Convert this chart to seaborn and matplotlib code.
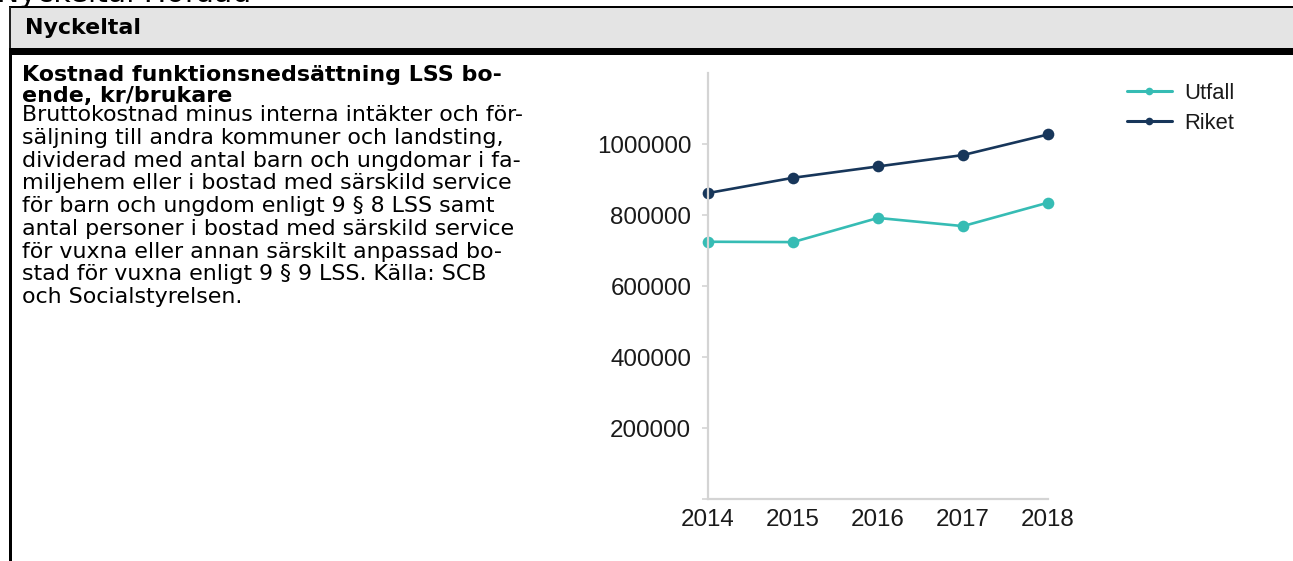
import matplotlib
matplotlib.use("Agg")
import matplotlib.pyplot as plt
from matplotlib.patches import Rectangle
from matplotlib.ticker import FuncFormatter
import pandas as pd
import seaborn as sns

# Data
years = [2014, 2015, 2016, 2017, 2018]
utfall = [725000, 724000, 792000, 769000, 835000]
riket = [862000, 905000, 937000, 969000, 1027000]
series_names = ["Utfall", "Riket"]
series_colors = ["#36bcb4", "#17365a"]
y_ticks = [0, 200000, 400000, 600000, 800000, 1000000]

page_title = "Nyckeltal Hofdad"
section_header = "Nyckeltal"
kpi_title = ["Kostnad funktionsnedsättning LSS bo-", "ende, kr/brukare"]
kpi_body = [
    "Bruttokostnad minus interna intäkter och för-",
    "säljning till andra kommuner och landsting,",
    "dividerad med antal barn och ungdomar i fa-",
    "miljehem eller i bostad med särskild service",
    "för barn och ungdom enligt 9 § 8 LSS samt",
    "antal personer i bostad med särskild service",
    "för vuxna eller annan särskilt anpassad bo-",
    "stad för vuxna enligt 9 § 9 LSS. Källa: SCB",
    "och Socialstyrelsen.",
]

df = pd.DataFrame({
    "År": years * 2,
    "Värde": utfall + riket,
    "Serie": [series_names[0]] * len(years) + [series_names[1]] * len(years),
})

sns.set_theme(style="white")
plt.rcParams["font.family"] = ["DejaVu Sans"]

W, H = 1293, 561
fig = plt.figure(figsize=(W / 100, H / 100), dpi=100)
fig.patch.set_facecolor("white")

# Page background layer in pixel coordinates
bg = fig.add_axes([0, 0, 1, 1], zorder=0)
bg.set_xlim(0, W)
bg.set_ylim(H, 0)
bg.axis("off")

bg.add_patch(Rectangle((9, 5.5), W - 9, 2, color="black", lw=0))
bg.add_patch(Rectangle((10.5, 7.5), W - 10.5, 41, color="#e4e4e4", lw=0))
bg.add_patch(Rectangle((9, 7), 1.6, 42, color="#222222", lw=0))
bg.add_patch(Rectangle((9, 48), W - 9, 7, color="black", lw=0))
bg.add_patch(Rectangle((8.5, 55), 3, H - 55, color="black", lw=0))

# Fit the description font so the first body line spans its column
probe = bg.text(22, 0, kpi_body[0], fontsize=12, family="DejaVu Sans")
fig.canvas.draw()
w_px = probe.get_window_extent(fig.canvas.get_renderer()).width
probe.remove()
fs = 12 * 500 / w_px

bg.text(-3, 1.5, page_title, fontsize=fs * 1.35, va="baseline", ha="left",
        color="black", family="DejaVu Sans")
bg.text(25, 28, section_header, fontsize=fs, fontweight="bold",
        va="center", ha="left", color="black")
for i, line in enumerate(kpi_title):
    bg.text(22, 75 + i * 20.5, line, fontsize=fs, fontweight="bold",
            va="center", ha="left", color="black")
for i, line in enumerate(kpi_body):
    bg.text(22, 115 + i * 22.75, line, fontsize=fs,
            va="center", ha="left", color="black")

# Chart
chart_font = "Liberation Sans"
left, right = 708, 1048
top, bottom = 73, 499.3
ax = fig.add_axes([left / W, (H - bottom) / H, (right - left) / W, (bottom - top) / H],
                  zorder=2)
ax.patch.set_alpha(0)

sns.lineplot(data=df, x="År", y="Värde", hue="Serie", hue_order=series_names,
             palette=series_colors, marker="o", markersize=8.4,
             markeredgewidth=0, linewidth=1.9, ax=ax, legend=False, clip_on=False)

ax.set_xlim(years[0], years[-1])
ax.set_ylim(0, 1200000)
ax.set_xticks(years)
ax.set_xticklabels([str(y) for y in years])
ax.set_yticks(y_ticks)
ax.yaxis.set_major_formatter(FuncFormatter(lambda v, p: "" if v == 0 else f"{int(v)}"))
ax.set_xlabel("")
ax.set_ylabel("")

for side in ["top", "right"]:
    ax.spines[side].set_visible(False)
for side in ["left", "bottom"]:
    ax.spines[side].set_color("#d4d4d4")
    ax.spines[side].set_linewidth(1.6)

ax.tick_params(axis="y", left=True, length=4.6, width=1.2, color="#d4d4d4",
               pad=7.5, labelsize=17.4, labelcolor="#1a1a1a")
ax.tick_params(axis="x", bottom=False, length=0, pad=7,
               labelsize=17.4, labelcolor="#1a1a1a")
for lab in ax.get_xticklabels() + ax.get_yticklabels():
    lab.set_family(chart_font)

# Legend
handles = [plt.Line2D([], [], color=c, marker="o", markersize=5.5,
                      markeredgewidth=0, linewidth=2.2) for c in series_colors]
leg = fig.legend(handles, series_names, loc="upper left",
                 bbox_to_anchor=(1127 / W, 1 - 83 / H), frameon=False,
                 borderpad=0, borderaxespad=0, handlelength=2.05,
                 handletextpad=0.55, labelspacing=0.4,
                 prop={"family": chart_font, "size": 15.8})
for t in leg.get_texts():
    t.set_color("#1a1a1a")

fig.savefig("out.png", dpi=100, facecolor="white")
